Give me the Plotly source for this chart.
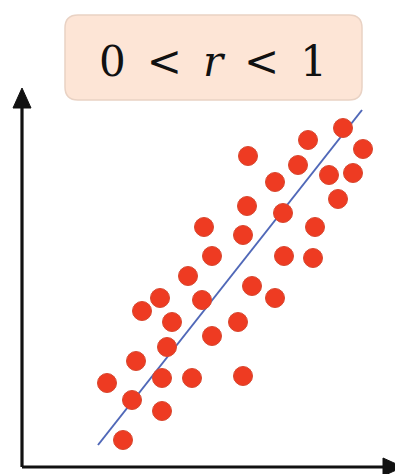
import plotly.graph_objects as go

# scatter points (x, y) measured from the origin corner of the axes
pts_x = [321, 286, 341, 226, 276, 253, 307, 331, 316, 225, 261, 182, 221, 293,
         190, 262, 291, 166, 230, 138, 180, 253, 120, 150, 216, 190, 145, 114,
         85, 140, 170, 221, 110, 140, 101]
pts_y = [339, 327, 318, 311, 302, 285, 292, 294, 268, 261, 254, 240, 232, 240,
         211, 211, 209, 191, 181, 169, 167, 169, 156, 145, 145, 131, 120, 106,
         84, 89, 89, 91, 67, 56, 27]

# trend line end points
line_x = [76, 340]
line_y = [22, 357]

sp = '\u2002'
label = f"0{sp}<{sp}<i>r</i>{sp}<{sp}1"

fig = go.Figure()

fig.add_trace(go.Scatter(x=line_x, y=line_y, mode='lines',
                         line=dict(color='#5068b8', width=2),
                         hoverinfo='skip'))
fig.add_trace(go.Scatter(x=pts_x, y=pts_y, mode='markers',
                         marker=dict(size=19, color='#ee3b22',
                                     line=dict(color='#d8472f', width=1)),
                         cliponaxis=False))

# axis lines and arrow heads
black = '#111111'
fig.add_shape(type='line', x0=0, y0=0, x1=0, y1=365,
              line=dict(color=black, width=3.2))
fig.add_shape(type='line', x0=0, y0=0, x1=365, y1=0,
              line=dict(color=black, width=3.2))
fig.add_shape(type='path', path='M -9 359 L 9 359 L 0 379 Z',
              fillcolor=black, line=dict(color=black, width=1))
fig.add_shape(type='path', path='M 361 -9 L 361 9 L 381 0 Z',
              fillcolor=black, line=dict(color=black, width=1))

# rounded label box (axis units are one pixel each)
x0, x1, y0, y1, r = 43, 340, 367, 452, 13
box = (f"M {x0 + r} {y0} L {x1 - r} {y0} Q {x1} {y0} {x1} {y0 + r} "
       f"L {x1} {y1 - r} Q {x1} {y1} {x1 - r} {y1} L {x0 + r} {y1} "
       f"Q {x0} {y1} {x0} {y1 - r} L {x0} {y0 + r} Q {x0} {y0} {x0 + r} {y0} Z")
fig.add_shape(type='path', path=box, fillcolor='#fde5d6',
              line=dict(color='#e9d2c4', width=1.5), layer='below')
fig.add_annotation(x=191, y=406, text=label, showarrow=False,
                   xanchor='center', yanchor='middle',
                   font=dict(family='DejaVu Serif', size=42, color='#111111'))

fig.update_xaxes(range=[-22, 373], visible=False)
fig.update_yaxes(range=[-7, 467], visible=False)
fig.update_layout(width=395, height=474, margin=dict(l=0, r=0, t=0, b=0),
                  plot_bgcolor='white', paper_bgcolor='white',
                  showlegend=False)

fig.write_html("out.html", config={'displayModeBar': False},
               post_script="document.body.style.margin='0';")
